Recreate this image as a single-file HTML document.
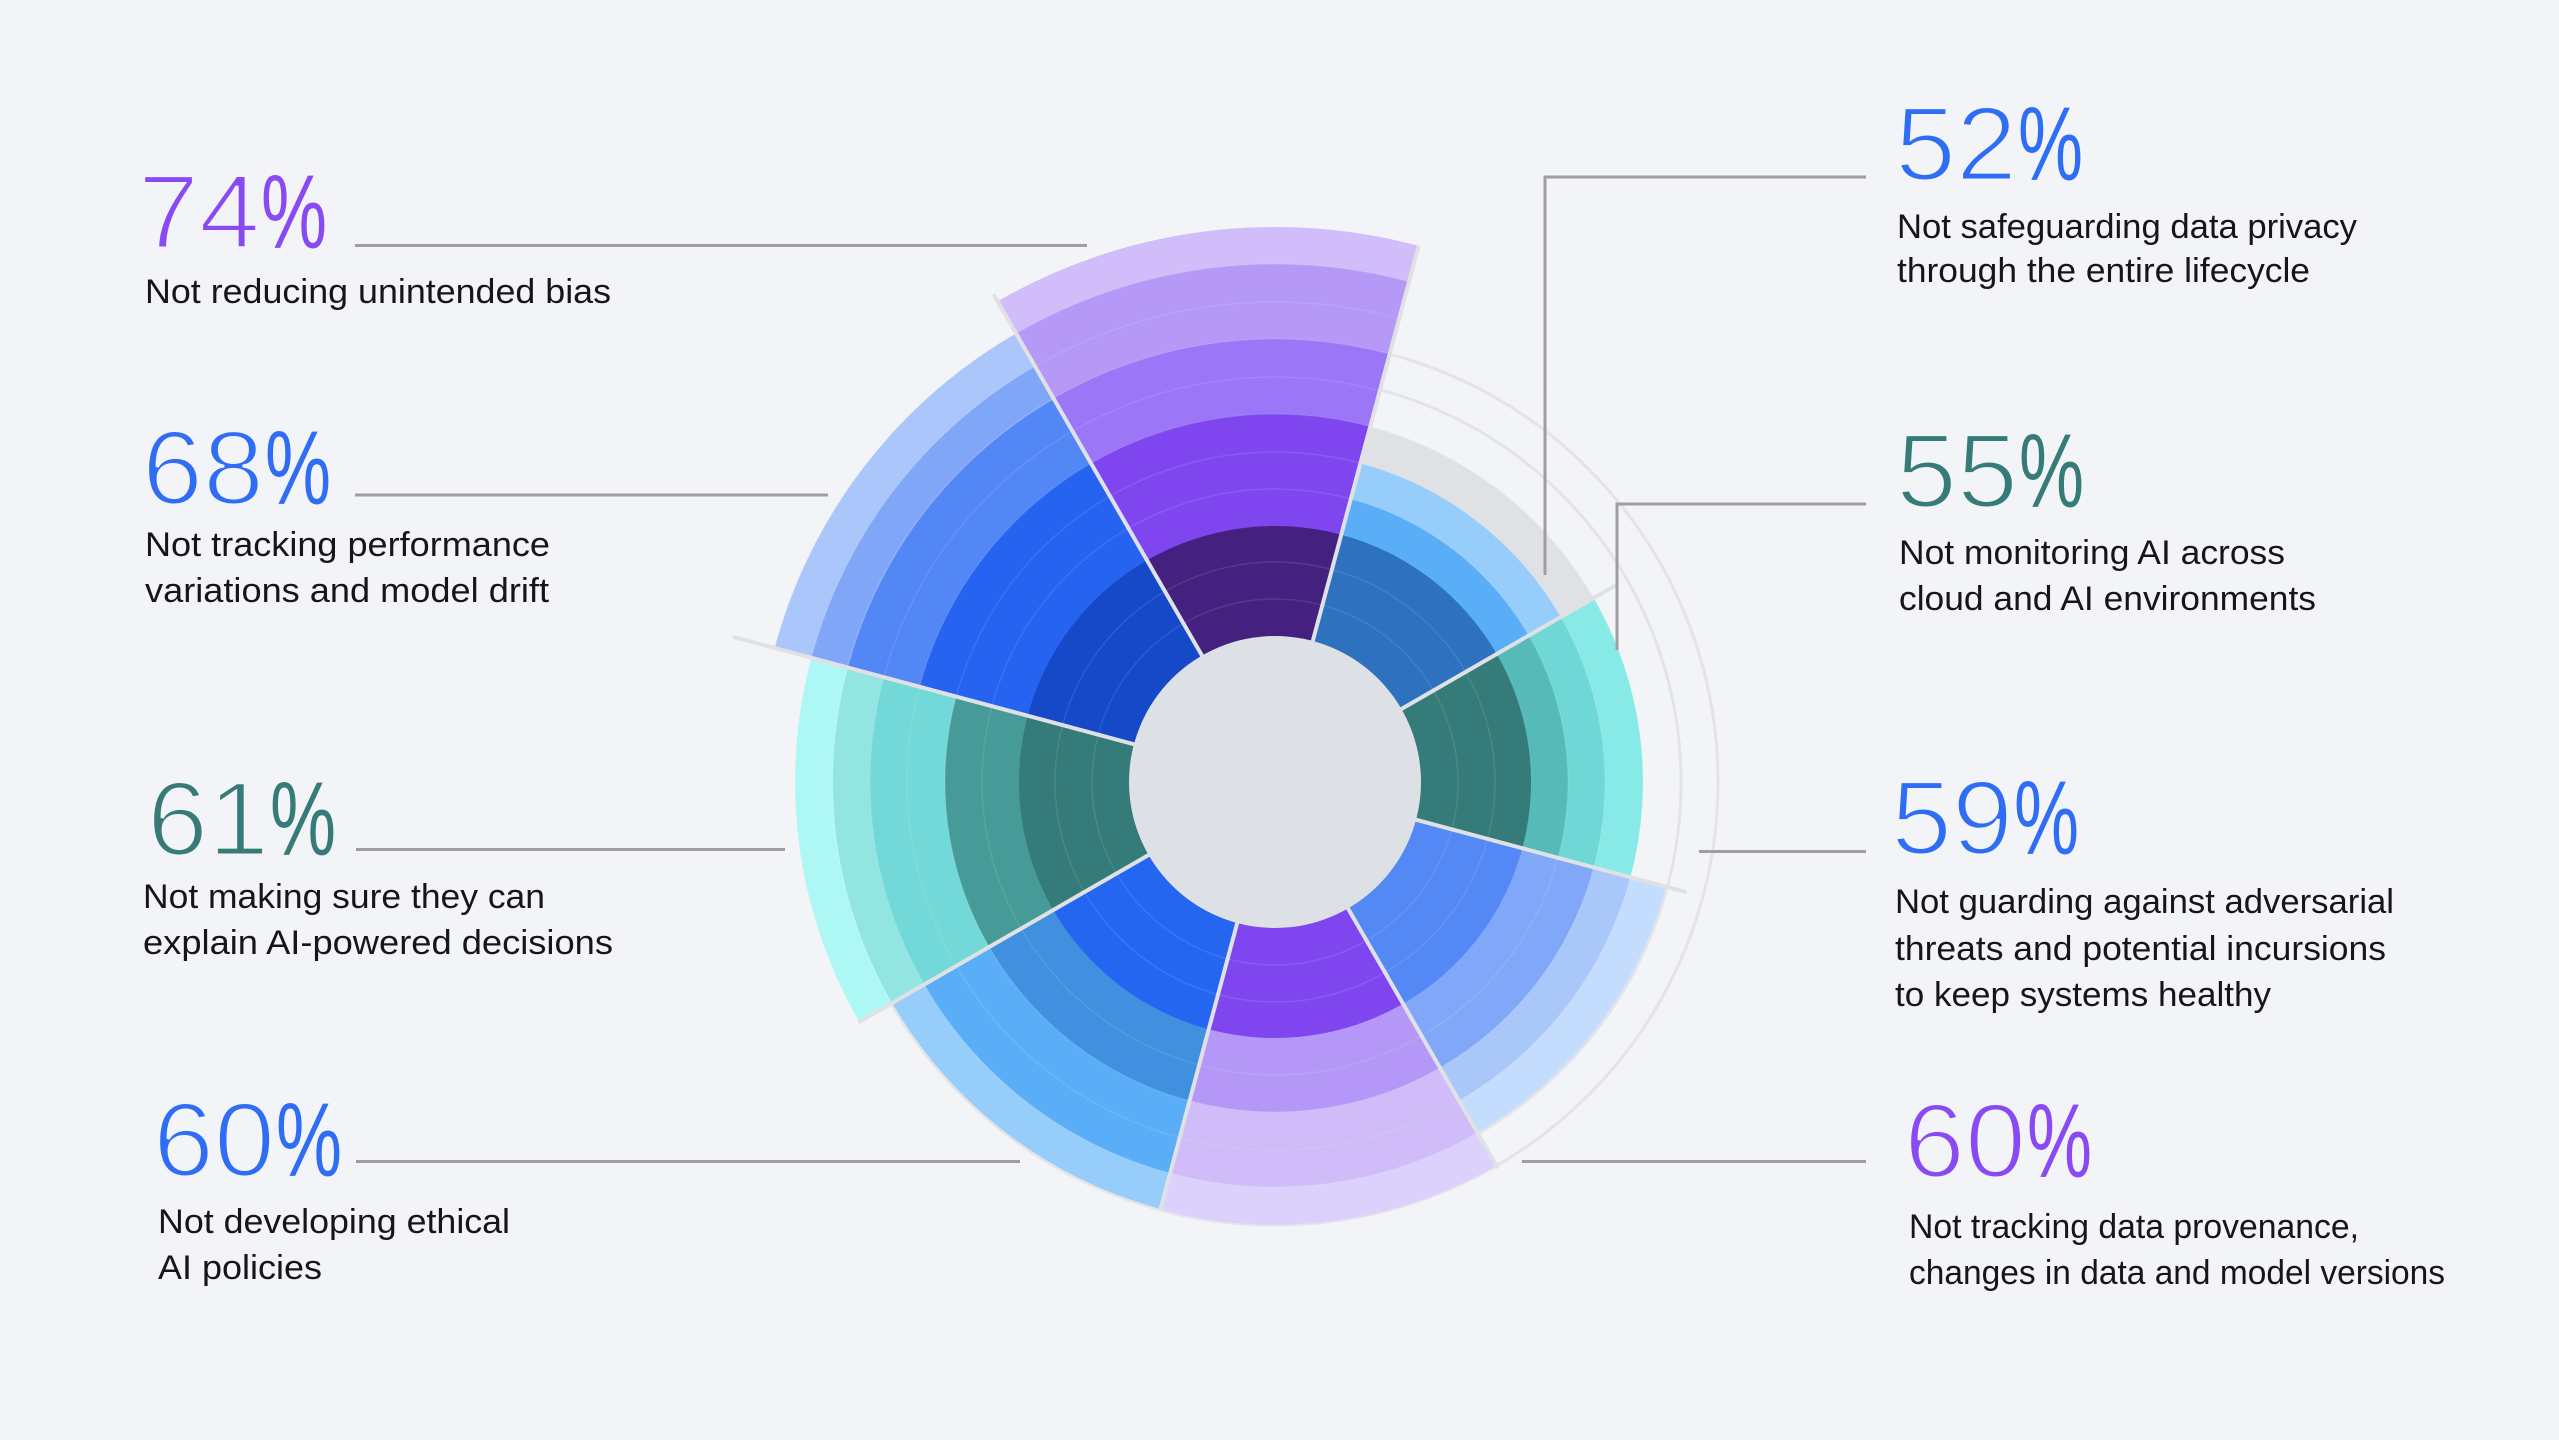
<!DOCTYPE html>
<html>
<head>
<meta charset="utf-8">
<style>
  html, body { margin:0; padding:0; background:#f2f4f8; }
  body { width:2559px; height:1440px; overflow:hidden; }
  svg { display:block; }
  .num { font-family:"Liberation Sans", sans-serif; font-size:105px; stroke:#f2f4f8; stroke-width:3px; }
  .num .pc { stroke:none; }
  .lbl { font-family:"Liberation Sans", sans-serif; font-size:34px; fill:#161616; }
</style>
</head>
<body>
<svg width="2559" height="1440" viewBox="0 0 2559 1440" xmlns="http://www.w3.org/2000/svg">
  <defs>
    <path id="s555" d="M0 0 L555 0 A555 555 0 0 1 392.45 392.45 Z"/>
    <path id="s518" d="M0 0 L518 0 A518 518 0 0 1 366.28 366.28 Z"/>
    <path id="s480" d="M0 0 L480 0 A480 480 0 0 1 339.41 339.41 Z"/>
    <path id="s443" d="M0 0 L443 0 A443 443 0 0 1 313.25 313.25 Z"/>
    <path id="s442" d="M0 0 L442 0 A442 442 0 0 1 312.54 312.54 Z"/>
    <path id="s405" d="M0 0 L405 0 A405 405 0 0 1 286.38 286.38 Z"/>
    <path id="s368" d="M0 0 L368 0 A368 368 0 0 1 260.22 260.22 Z"/>
    <path id="s330" d="M0 0 L330 0 A330 330 0 0 1 233.35 233.35 Z"/>
    <path id="s293" d="M0 0 L293 0 A293 293 0 0 1 207.18 207.18 Z"/>
    <path id="s256" d="M0 0 L256 0 A256 256 0 0 1 181.02 181.02 Z"/>
  </defs>

  <rect x="0" y="0" width="2559" height="1440" fill="#f2f4f8"/>

  <g transform="translate(1275,782)">
    <circle r="406" fill="none" stroke="#e2e3e6" stroke-width="3"/>
    <circle r="443" fill="none" stroke="#e2e3e6" stroke-width="3"/>

    <g transform="rotate(240)">
      <use href="#s555" fill="#d0bdf9"/>
      <use href="#s518" fill="#b699f6"/>
      <use href="#s443" fill="#9b76f6"/>
      <use href="#s368" fill="#7f46f0"/>
      <use href="#s256" fill="#44217f"/>
    </g>
    <g transform="rotate(285)">
      <use href="#s368" fill="#dfe1e5"/>
      <use href="#s330" fill="#97cdfa"/>
      <use href="#s293" fill="#5aaef7"/>
      <use href="#s256" fill="#2e71bf"/>
    </g>
    <g transform="rotate(330)">
      <use href="#s368" fill="#88eae6"/>
      <use href="#s330" fill="#6fd8d6"/>
      <use href="#s293" fill="#55bab8"/>
      <use href="#s256" fill="#357b79"/>
    </g>
    <g transform="rotate(15)">
      <use href="#s405" fill="#c4dcfd"/>
      <use href="#s368" fill="#aac7fa"/>
      <use href="#s330" fill="#80a7f8"/>
      <use href="#s256" fill="#5388f5"/>
    </g>
    <g transform="rotate(60)">
      <use href="#s443" fill="#dcd0fd"/>
      <use href="#s405" fill="#cfbcf8"/>
      <use href="#s330" fill="#b497f6"/>
      <use href="#s256" fill="#7f46f0"/>
    </g>
    <g transform="rotate(105)">
      <use href="#s442" fill="#97cdfa"/>
      <use href="#s405" fill="#5aaef7"/>
      <use href="#s330" fill="#418fdf"/>
      <use href="#s256" fill="#2566f1"/>
    </g>
    <g transform="rotate(150)">
      <use href="#s480" fill="#adf7f5"/>
      <use href="#s442" fill="#93e5e1"/>
      <use href="#s405" fill="#72d9d8"/>
      <use href="#s330" fill="#469a98"/>
      <use href="#s256" fill="#357b79"/>
    </g>
    <g transform="rotate(195)">
      <use href="#s518" fill="#aac6fa"/>
      <use href="#s480" fill="#80a6f8"/>
      <use href="#s442" fill="#5287f5"/>
      <use href="#s368" fill="#2563f0"/>
      <use href="#s256" fill="#1549c8"/>
    </g>

    <g fill="none" stroke="#ffffff" stroke-opacity="0.10" stroke-width="1.5">
      <circle r="183"/><circle r="220"/><circle r="293"/><circle r="330"/>
      <circle r="368"/><circle r="405"/><circle r="443"/><circle r="480"/><circle r="518"/>
    </g>

    <g stroke="#dfe1e5" stroke-width="4">
      <line x1="140" y1="0" x2="563" y2="0" transform="rotate(240)"/>
      <line x1="140" y1="0" x2="555" y2="0" transform="rotate(285)"/>
      <line x1="140" y1="0" x2="394" y2="0" transform="rotate(330)"/>
      <line x1="140" y1="0" x2="426" y2="0" transform="rotate(15)"/>
      <line x1="140" y1="0" x2="446" y2="0" transform="rotate(60)"/>
      <line x1="140" y1="0" x2="443" y2="0" transform="rotate(105)"/>
      <line x1="140" y1="0" x2="481" y2="0" transform="rotate(150)"/>
      <line x1="140" y1="0" x2="561" y2="0" transform="rotate(195)"/>
    </g>

    <circle r="146" fill="#dde0e5"/>
  </g>

  <g fill="none" stroke="#9e9e9e" stroke-width="3">
    <line x1="355" y1="245.5" x2="1087" y2="245.5"/>
    <line x1="355" y1="495" x2="828" y2="495"/>
    <line x1="356" y1="849.5" x2="785" y2="849.5"/>
    <line x1="356" y1="1161.5" x2="1020" y2="1161.5"/>
    <polyline points="1545,575 1545,177 1866,177"/>
    <polyline points="1617,650 1617,504 1866,504"/>
    <line x1="1699" y1="851.5" x2="1866" y2="851.5"/>
    <line x1="1522" y1="1161.5" x2="1866" y2="1161.5"/>
  </g>

  <g class="num" fill="#8a4af3">
    <text x="138" y="248" textLength="122" lengthAdjust="spacingAndGlyphs">74</text>
    <text class="pc" x="261" y="248" textLength="66" lengthAdjust="spacingAndGlyphs">%</text>
  </g>
  <g class="num" fill="#2f6df4">
    <text x="142" y="504" textLength="122" lengthAdjust="spacingAndGlyphs">68</text>
    <text class="pc" x="265" y="504" textLength="66" lengthAdjust="spacingAndGlyphs">%</text>
  </g>
  <g class="num" fill="#367b78">
    <text x="147" y="855" textLength="122" lengthAdjust="spacingAndGlyphs">61</text>
    <text class="pc" x="270" y="855" textLength="66" lengthAdjust="spacingAndGlyphs">%</text>
  </g>
  <g class="num" fill="#2f6df4">
    <text x="153" y="1176" textLength="122" lengthAdjust="spacingAndGlyphs">60</text>
    <text class="pc" x="276" y="1176" textLength="66" lengthAdjust="spacingAndGlyphs">%</text>
  </g>
  <g class="num" fill="#2f6df4">
    <text x="1895" y="180" textLength="122" lengthAdjust="spacingAndGlyphs">52</text>
    <text class="pc" x="2018" y="180" textLength="65" lengthAdjust="spacingAndGlyphs">%</text>
  </g>
  <g class="num" fill="#367b78">
    <text x="1896" y="507" textLength="122" lengthAdjust="spacingAndGlyphs">55</text>
    <text class="pc" x="2019" y="507" textLength="65" lengthAdjust="spacingAndGlyphs">%</text>
  </g>
  <g class="num" fill="#2f6df4">
    <text x="1891" y="854" textLength="122" lengthAdjust="spacingAndGlyphs">59</text>
    <text class="pc" x="2014" y="854" textLength="65" lengthAdjust="spacingAndGlyphs">%</text>
  </g>
  <g class="num" fill="#8a4af3">
    <text x="1904" y="1177" textLength="122" lengthAdjust="spacingAndGlyphs">60</text>
    <text class="pc" x="2027" y="1177" textLength="65" lengthAdjust="spacingAndGlyphs">%</text>
  </g>

  <text class="lbl" x="145" y="303" textLength="466" lengthAdjust="spacingAndGlyphs">Not reducing unintended bias</text>
  <text class="lbl" x="145" y="556" textLength="405" lengthAdjust="spacingAndGlyphs">Not tracking performance</text>
  <text class="lbl" x="145" y="602" textLength="404" lengthAdjust="spacingAndGlyphs">variations and model drift</text>
  <text class="lbl" x="143" y="908" textLength="402" lengthAdjust="spacingAndGlyphs">Not making sure they can</text>
  <text class="lbl" x="143" y="954" textLength="470" lengthAdjust="spacingAndGlyphs">explain AI-powered decisions</text>
  <text class="lbl" x="158" y="1233" textLength="352" lengthAdjust="spacingAndGlyphs">Not developing ethical</text>
  <text class="lbl" x="158" y="1279" textLength="164" lengthAdjust="spacingAndGlyphs">AI policies</text>

  <text class="lbl" x="1897" y="238" textLength="460" lengthAdjust="spacingAndGlyphs">Not safeguarding data privacy</text>
  <text class="lbl" x="1897" y="282" textLength="413" lengthAdjust="spacingAndGlyphs">through the entire lifecycle</text>
  <text class="lbl" x="1899" y="564" textLength="386" lengthAdjust="spacingAndGlyphs">Not monitoring AI across</text>
  <text class="lbl" x="1899" y="610" textLength="417" lengthAdjust="spacingAndGlyphs">cloud and AI environments</text>
  <text class="lbl" x="1895" y="913" textLength="499" lengthAdjust="spacingAndGlyphs">Not guarding against adversarial</text>
  <text class="lbl" x="1895" y="960" textLength="491" lengthAdjust="spacingAndGlyphs">threats and potential incursions</text>
  <text class="lbl" x="1895" y="1006" textLength="376" lengthAdjust="spacingAndGlyphs">to keep systems healthy</text>
  <text class="lbl" x="1909" y="1238" textLength="450" lengthAdjust="spacingAndGlyphs">Not tracking data provenance,</text>
  <text class="lbl" x="1909" y="1284" textLength="536" lengthAdjust="spacingAndGlyphs">changes in data and model versions</text>
</svg>
</body>
</html>
